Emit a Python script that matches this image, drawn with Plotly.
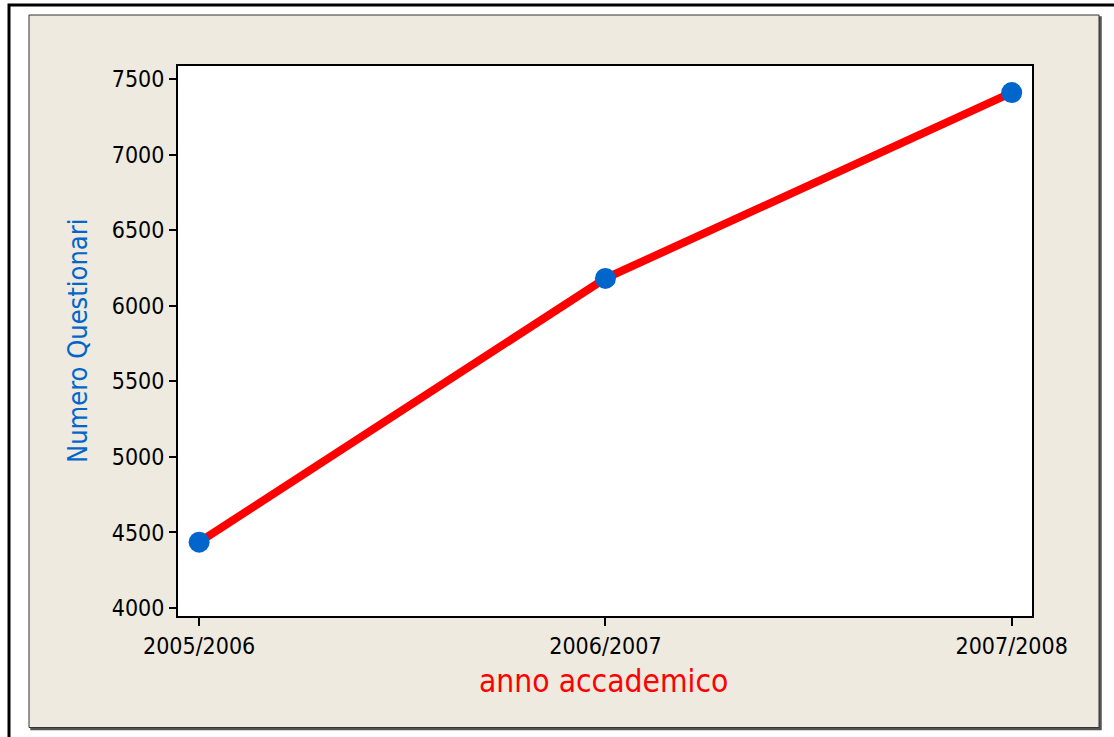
import plotly.graph_objects as go

anni = ["2005/2006", "2006/2007", "2007/2008"]
questionari = [4436, 6182, 7412]
y_ticks = [4000, 4500, 5000, 5500, 6000, 6500, 7000, 7500]

FONT = "DejaVu Sans Condensed, DejaVu Sans, sans-serif"

fig = go.Figure()
fig.add_trace(go.Scatter(
    x=anni, y=questionari, mode="lines+markers",
    line=dict(color="#FF0000", width=8),
    marker=dict(color="#0066CC", size=21, line=dict(width=0)),
    showlegend=False, hoverinfo="x+y",
))

W, H = 1114, 737
L, R, T, B = 178, 82, 66, 121
pw, ph = W - L - R, H - T - B

def px(x):
    return (x - L) / pw

def py(y):
    return (H - B - y) / ph

shapes = [
    # outer frame (top/left visible)
    dict(type="rect", xref="paper", yref="paper",
         x0=px(9), x1=px(1200), y0=py(900), y1=py(5),
         line=dict(color="black", width=3), fillcolor="rgba(0,0,0,0)", layer="below"),
    # shadow of panel
    dict(type="rect", xref="paper", yref="paper",
         x0=px(31), x1=px(1101), y0=py(729.5), y1=py(17),
         line=dict(color="#555555", width=1.5), fillcolor="#555555", layer="below"),
    # beige panel
    dict(type="rect", xref="paper", yref="paper",
         x0=px(29), x1=px(1099), y0=py(727.5), y1=py(15),
         line=dict(color="#333333", width=1), fillcolor="#EEEAE0", layer="below"),
    # white plotting area
    dict(type="rect", xref="x domain", yref="y domain",
         x0=0, x1=1, y0=0, y1=1,
         line=dict(width=0), fillcolor="white", layer="below"),
]

fig.update_layout(
    width=W, height=H,
    margin=dict(l=L, r=R, t=T, b=B, pad=0),
    paper_bgcolor="white",
    plot_bgcolor="white",
    font=dict(family=FONT, color="black", size=23),
    shapes=shapes,
    xaxis=dict(
        type="category", range=[-0.052, 2.05],
        showline=True, mirror=True, linecolor="black", linewidth=2,
        ticks="outside", ticklen=8, tickwidth=1.5, tickcolor="black",
        showgrid=False, zeroline=False,
        tickfont=dict(family=FONT, size=23, color="black"),
    ),
    yaxis=dict(
        range=[3947, 7588], tickvals=y_ticks,
        showline=True, mirror=True, linecolor="black", linewidth=2,
        ticks="outside", ticklen=7, tickwidth=1.5, tickcolor="black",
        showgrid=False, zeroline=False,
        tickfont=dict(family=FONT, size=23, color="black"),
    ),
    annotations=[
        dict(text="anno accademico", xref="paper", yref="paper",
             x=px(603), y=py(681), xanchor="center", yanchor="middle",
             showarrow=False, font=dict(family=FONT, size=31.5, color="#FF0000")),
        dict(text="Numero Questionari", xref="paper", yref="paper",
             x=px(77), y=py(341), xanchor="center", yanchor="middle",
             textangle=-90, showarrow=False,
             font=dict(family=FONT, size=27, color="#0066CC")),
    ],
)

fig.write_html("out.html",
               config={"displayModeBar": False},
               post_script="document.body.style.margin='0';document.body.style.padding='0';")
